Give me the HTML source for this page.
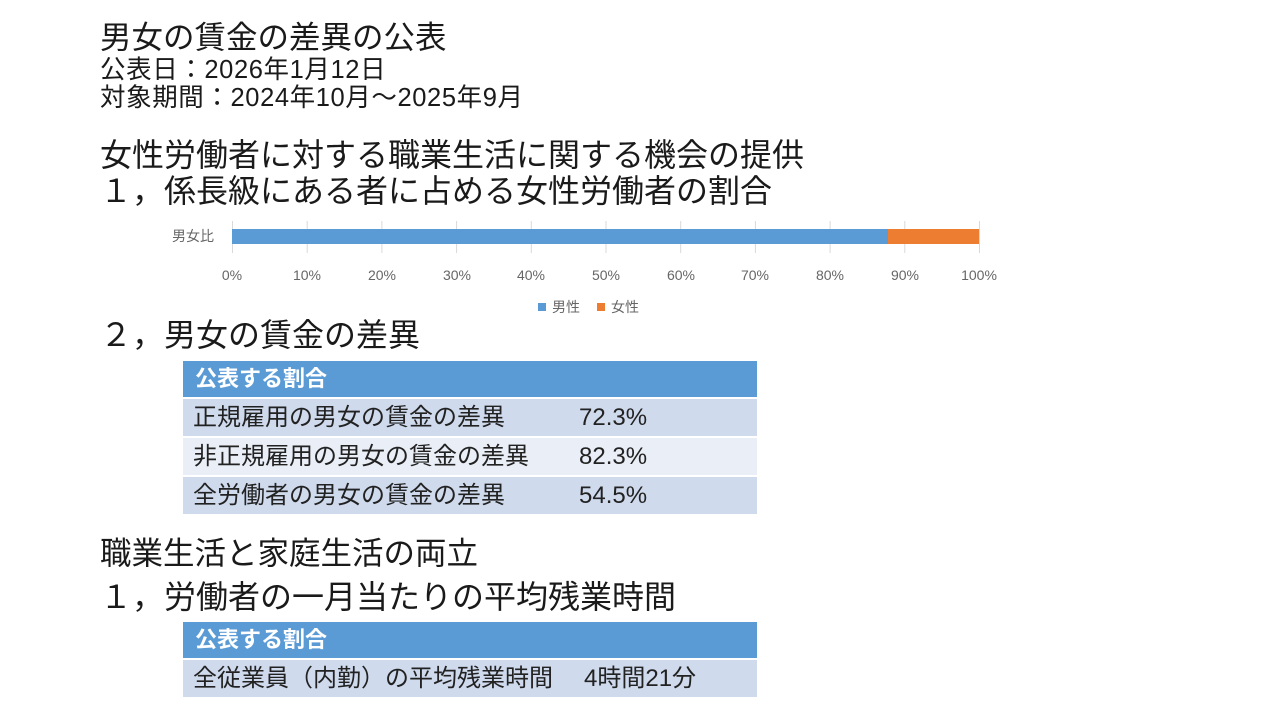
<!DOCTYPE html>
<html><head><meta charset="utf-8"><style>
*{margin:0;padding:0;box-sizing:border-box}
body{width:1280px;height:720px;background:#fff;position:relative;overflow:hidden;font-family:"Liberation Sans","Noto Sans CJK JP",sans-serif;color:#1a1a1a}
.t{position:absolute;white-space:nowrap;line-height:1}
.tbl{position:absolute;left:183px;width:574px}
.hd{background:#5b9bd5;color:#fff;font-weight:bold;font-size:22px;height:36px;line-height:36px;padding-left:12px}
.row{display:flex;height:37px;margin-top:2px;font-size:24px;line-height:37px;color:#222}
.row div{padding-left:10px}
.a{background:#cfdaed}.b{background:#e9eef7}
</style></head><body>
<div class="t" style="left:100px;top:22px;font-size:31.5px">男女の賃金の差異の公表</div>
<div class="t" style="left:100px;top:58px;font-size:25.5px;letter-spacing:0.6px">公表日：2026年1月12日</div>
<div class="t" style="left:100px;top:86px;font-size:25.5px;letter-spacing:0.6px">対象期間：2024年10月～2025年9月</div>
<div class="t" style="left:100px;top:139px;font-size:32px">女性労働者に対する職業生活に関する機会の提供</div>
<div class="t" style="left:100px;top:175px;font-size:32px">１，係長級にある者に占める女性労働者の割合</div>

<svg style="position:absolute;left:0;top:0" width="1280" height="330">
<g stroke="#d9d9d9" stroke-width="1">
<line x1="232.5" y1="221" x2="232.5" y2="253"/><line x1="307.2" y1="221" x2="307.2" y2="253"/><line x1="381.9" y1="221" x2="381.9" y2="253"/><line x1="456.6" y1="221" x2="456.6" y2="253"/><line x1="531.3" y1="221" x2="531.3" y2="253"/><line x1="606" y1="221" x2="606" y2="253"/><line x1="680.7" y1="221" x2="680.7" y2="253"/><line x1="755.4" y1="221" x2="755.4" y2="253"/><line x1="830.1" y1="221" x2="830.1" y2="253"/><line x1="904.8" y1="221" x2="904.8" y2="253"/><line x1="979.5" y1="221" x2="979.5" y2="253"/>
</g>
<rect x="232" y="229" width="656" height="15" fill="#5b9bd5"/>
<rect x="888" y="229" width="91" height="15" fill="#ed7d31"/>
<g font-size="14" fill="#666" font-family="Liberation Sans,Noto Sans CJK JP,sans-serif" text-anchor="middle">
<text x="193" y="241">男女比</text>
<text x="232" y="280">0%</text><text x="307" y="280">10%</text><text x="382" y="280">20%</text><text x="457" y="280">30%</text><text x="531" y="280">40%</text><text x="606" y="280">50%</text><text x="681" y="280">60%</text><text x="755" y="280">70%</text><text x="830" y="280">80%</text><text x="905" y="280">90%</text><text x="979" y="280">100%</text>
<rect x="538" y="303" width="8" height="8" fill="#5b9bd5"/><text x="566" y="312">男性</text>
<rect x="597" y="303" width="8" height="8" fill="#ed7d31"/><text x="625" y="312">女性</text>
</g>
</svg>

<div class="t" style="left:100px;top:319px;font-size:32px">２，男女の賃金の差異</div>
<div class="tbl" style="top:361px">
<div class="hd">公表する割合</div>
<div class="row a"><div style="width:384px">正規雇用の男女の賃金の差異</div><div style="margin-left:2px">72.3%</div></div>
<div class="row b"><div style="width:384px">非正規雇用の男女の賃金の差異</div><div style="margin-left:2px">82.3%</div></div>
<div class="row a"><div style="width:384px">全労働者の男女の賃金の差異</div><div style="margin-left:2px">54.5%</div></div>
</div>

<div class="t" style="left:100px;top:538px;font-size:31.5px">職業生活と家庭生活の両立</div>
<div class="t" style="left:100px;top:581px;font-size:32px">１，労働者の一月当たりの平均残業時間</div>
<div class="tbl" style="top:622px">
<div class="hd">公表する割合</div>
<div class="row a"><div style="width:389px">全従業員（内勤）の平均残業時間</div><div style="margin-left:2px">4時間21分</div></div>
</div>
</body></html>
